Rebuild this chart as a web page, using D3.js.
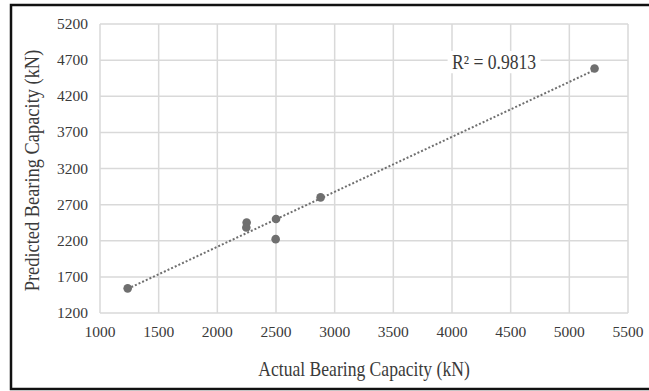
<!DOCTYPE html>
<html>
<head>
<meta charset="utf-8">
<script src="https://d3js.org/d3.v7.min.js"></script>
<style>
  body { margin: 0; background: #fff; }
  svg text { font-family: "Liberation Serif", "Times New Roman", serif; fill: #3a3a3a; }
</style>
</head>
<body>
<div id="vis"></div>
<script>
  // values
  var actual    = [1236, 2250, 2247, 2500, 2497, 2880, 5215]
  var predicted = [1541, 2453, 2384, 2502, 2222, 2800, 4584]
  var xTicks = [1000, 1500, 2000, 2500, 3000, 3500, 4000, 4500, 5000, 5500]
  var yTicks = [1200, 1700, 2200, 2700, 3200, 3700, 4200, 4700, 5200]
  var r2Label = "R\u00b2 = 0.9813"

  var W = 649, H = 391
  var margin = {top: 24, right: 21, bottom: 78, left: 100},
    width = W - margin.left - margin.right,
    height = H - margin.top - margin.bottom;

  var svg = d3.select("#vis").append("svg")
    .attr("width", W).attr("height", H)

  // outer frame
  svg.append("rect")
    .attr("x", 11).attr("y", 5)
    .attr("width", W).attr("height", 384)
    .attr("fill", "none").attr("stroke", "#111").attr("stroke-width", 2.5)

  var g = svg.append("g")
    .attr("transform", "translate(" + margin.left + "," + margin.top + ")")

  var x = d3.scaleLinear().domain([1000, 5500]).range([0, width])
  var y = d3.scaleLinear().domain([1200, 5200]).range([height, 0])

  // grid
  g.selectAll(".vgrid").data(xTicks).enter().append("line")
    .attr("x1", function(d) { return x(d) }).attr("x2", function(d) { return x(d) })
    .attr("y1", 0).attr("y2", height)
    .attr("stroke", "#d9d9d9").attr("stroke-width", 1.5)
  g.selectAll(".hgrid").data(yTicks).enter().append("line")
    .attr("y1", function(d) { return y(d) }).attr("y2", function(d) { return y(d) })
    .attr("x1", 0).attr("x2", width)
    .attr("stroke", "#d9d9d9").attr("stroke-width", 1.5)

  // tick labels
  g.selectAll(".xl").data(xTicks).enter().append("text")
    .attr("x", function(d) { return x(d) }).attr("y", height + 24)
    .attr("text-anchor", "middle").attr("font-size", 15.5)
    .text(function(d) { return d })
  g.selectAll(".yl").data(yTicks).enter().append("text")
    .attr("x", -12).attr("y", function(d) { return y(d) + 5 })
    .attr("text-anchor", "end").attr("font-size", 15.5)
    .text(function(d) { return d })

  // axis titles (text in the source is a bit narrow, so squeeze it)
  svg.append("text")
    .attr("transform", "translate(" + (margin.left + width / 2) + ",376) scale(0.88,1)")
    .attr("text-anchor", "middle").attr("font-size", 20)
    .text("Actual Bearing Capacity (kN)")
  svg.append("text")
    .attr("transform", "translate(39," + (margin.top + height / 2 + 2) + ") rotate(-90) scale(0.92,1)")
    .attr("text-anchor", "middle").attr("font-size", 20)
    .text("Predicted Bearing Capacity (kN)")

  // linear trendline (least squares)
  var n = actual.length
  var mx = d3.mean(actual), my = d3.mean(predicted)
  var sxy = 0, sxx = 0
  for (var i = 0; i < n; i++) {
    sxy += (actual[i] - mx) * (predicted[i] - my)
    sxx += (actual[i] - mx) * (actual[i] - mx)
  }
  var slope = sxy / sxx, icpt = my - slope * mx
  var x0 = d3.min(actual), x1 = d3.max(actual)
  g.append("line")
    .attr("x1", x(x0)).attr("y1", y(icpt + slope * x0))
    .attr("x2", x(x1)).attr("y2", y(icpt + slope * x1))
    .attr("stroke", "#6f6f6f").attr("stroke-width", 2)
    .attr("stroke-dasharray", "2,2")

  // points
  g.selectAll(".pt").data(actual).enter().append("circle")
    .attr("cx", function(d) { return x(d) })
    .attr("cy", function(d, i) { return y(predicted[i]) })
    .attr("r", 4.3)
    .attr("fill", "#6f6f6f")

  // R² label with white box
  var lg = g.append("g").attr("transform", "translate(352,45) scale(0.88,1)")
  var lab = lg.append("text")
    .attr("font-size", 20)
    .text(r2Label)
  var bb = lab.node().getBBox()
  lg.insert("rect", "text")
    .attr("x", bb.x - 5).attr("y", bb.y)
    .attr("width", bb.width + 10).attr("height", bb.height)
    .attr("fill", "#fff")
</script>
</body>
</html>
